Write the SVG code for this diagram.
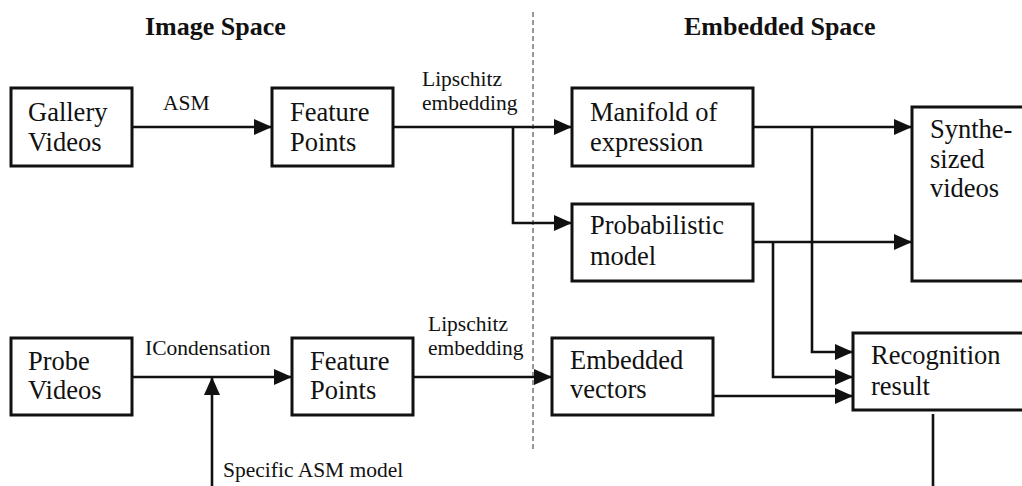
<svg xmlns="http://www.w3.org/2000/svg" width="1022" height="486" viewBox="0 0 1022 486">
<style>
.box{fill:#fff;stroke:#111;stroke-width:3}
.t{font-family:"Liberation Serif","Times New Roman",serif;font-size:26.5px;fill:#111}
.s{font-family:"Liberation Serif","Times New Roman",serif;font-size:21.5px;fill:#111}
.h{font-family:"Liberation Serif","Times New Roman",serif;font-size:26px;font-weight:bold;fill:#111}
.c{fill:none;stroke:#111;stroke-width:2.6}
</style>
<defs>
<marker id="ah" markerUnits="userSpaceOnUse" markerWidth="18" markerHeight="16" refX="18" refY="8" orient="auto" viewBox="0 0 18 16">
<path d="M0,0 L18,8 L0,16 z" fill="#111"/>
</marker>
</defs>
<rect width="1022" height="486" fill="#fff"/>
<text class="h" x="145" y="35">Image Space</text>
<text class="h" x="684" y="35">Embedded Space</text>
<line x1="533" y1="12" x2="533" y2="452" stroke="#777" stroke-width="1.5" stroke-dasharray="5 3"/>
<g id="connectors">
<path class="c" d="M132,127 H272" marker-end="url(#ah)"/>
<path class="c" d="M393,127 H572" marker-end="url(#ah)"/>
<path class="c" d="M513,127 V223 H572" marker-end="url(#ah)"/>
<path class="c" d="M753,127 H912" marker-end="url(#ah)"/>
<path class="c" d="M753,242 H912" marker-end="url(#ah)"/>
<path class="c" d="M812,127 V352 H853" marker-end="url(#ah)"/>
<path class="c" d="M773,242 V377 H853" marker-end="url(#ah)"/>
<path class="c" d="M713,396 H853" marker-end="url(#ah)"/>
<path class="c" d="M132,377 H292" marker-end="url(#ah)"/>
<path class="c" d="M212,486 V377" marker-end="url(#ah)"/>
<path class="c" d="M413,377 H552" marker-end="url(#ah)"/>
<path class="c" d="M933,414 V486"/>
<text class="s" x="163" y="110">ASM</text>
<text class="s" x="422" y="86">Lipschitz</text>
<text class="s" x="422" y="110">embedding</text>
<text class="s" x="145" y="355">ICondensation</text>
<text class="s" x="428" y="331">Lipschitz</text>
<text class="s" x="428" y="355">embedding</text>
<text class="s" x="223" y="477">Specific ASM model</text>
</g>
<g id="gallery">
<rect class="box" x="11" y="88" width="121" height="78"/>
<text class="t" x="28" y="121">Gallery</text>
<text class="t" x="28" y="151">Videos</text>
</g>
<g id="fp1">
<rect class="box" x="272" y="88" width="121" height="78"/>
<text class="t" x="290" y="121">Feature</text>
<text class="t" x="290" y="151">Points</text>
</g>
<g id="manifold">
<rect class="box" x="572" y="88" width="181" height="78"/>
<text class="t" x="590" y="121">Manifold of</text>
<text class="t" x="590" y="151">expression</text>
</g>
<g id="prob">
<rect class="box" x="572" y="204" width="181" height="77"/>
<text class="t" x="590" y="234">Probabilistic</text>
<text class="t" x="590" y="265">model</text>
</g>
<g id="synth">
<rect class="box" x="912" y="107" width="130" height="174"/>
<text class="t" x="930" y="138">Synthe-</text>
<text class="t" x="930" y="168">sized</text>
<text class="t" x="930" y="197">videos</text>
</g>
<g id="probe">
<rect class="box" x="11" y="338" width="121" height="77"/>
<text class="t" x="28" y="370">Probe</text>
<text class="t" x="28" y="399">Videos</text>
</g>
<g id="fp2">
<rect class="box" x="292" y="338" width="121" height="77"/>
<text class="t" x="310" y="370">Feature</text>
<text class="t" x="310" y="399">Points</text>
</g>
<g id="embedded">
<rect class="box" x="552" y="338" width="161" height="77"/>
<text class="t" x="570" y="369">Embedded</text>
<text class="t" x="570" y="398">vectors</text>
</g>
<g id="recognition">
<rect class="box" x="853" y="333" width="190" height="77"/>
<text class="t" x="871" y="364">Recognition</text>
<text class="t" x="871" y="395">result</text>
</g>
</svg>
